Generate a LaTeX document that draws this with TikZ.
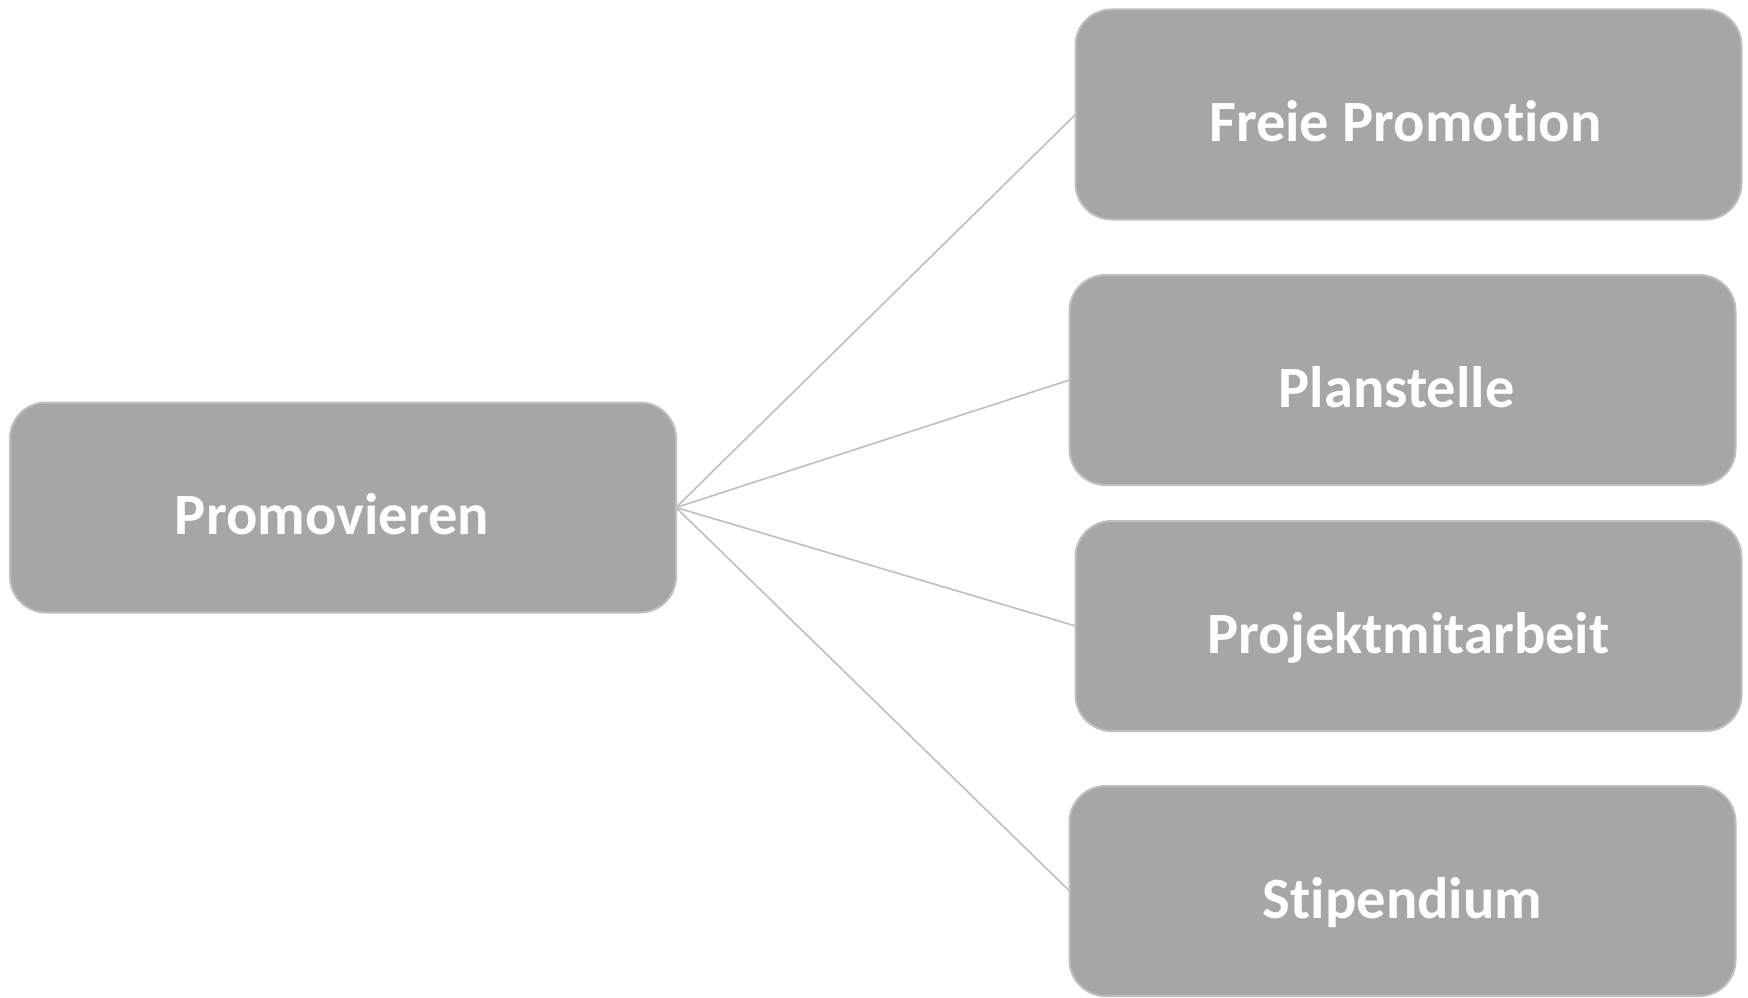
\documentclass[tikz,border=0pt]{standalone}
\usepackage{fontspec}
\setmainfont[Ligatures={NoCommon,NoRare,NoDiscretionary}]{Carlito}
\definecolor{boxfill}{HTML}{A6A6A6}
\definecolor{boxline}{HTML}{BFBFBF}
\newcommand\boxlbl[1]{\raisebox{-27pt}[0pt][0pt]{#1}}
\begin{document}
\begin{tikzpicture}[x=1pt,y=-1pt,
  cbox/.style={draw=boxline, line width=2pt, fill=boxfill, rounded corners=36pt,
    minimum width=666pt, minimum height=210pt, inner sep=0pt, outer sep=0pt,
    text=white, font=\fontsize{58.5}{66}\selectfont\bfseries},
  conn/.style={draw=boxline, line width=1.6pt}]
\useasboundingbox (0,0) rectangle (1748,998);
\fill[white] (0,0) rectangle (1748,998);
\node[cbox] (prom) at (343,507.5) {\boxlbl{\hspace*{-22pt}Promovieren}};
\node[cbox] (freie) at (1408.5,114.5) {\boxlbl{\hspace*{-6pt}Freie Promotion}};
\node[cbox] (plan) at (1402.5,380) {\boxlbl{\hspace*{-12pt}Planstelle}};
\node[cbox] (proj) at (1408.5,626) {\boxlbl{Projektmitarbeit}};
\node[cbox] (stip) at (1402.5,891) {\boxlbl{Stipendium}};
\draw[conn] (prom.east) -- (freie.west);
\draw[conn] (prom.east) -- (plan.west);
\draw[conn] (prom.east) -- (proj.west);
\draw[conn] (prom.east) -- (stip.west);
\end{tikzpicture}
\end{document}
